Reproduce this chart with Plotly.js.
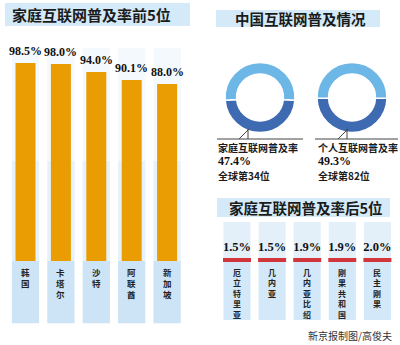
<!DOCTYPE html>
<html><head><meta charset="utf-8">
<script src="https://cdn.plot.ly/plotly-3.0.1.min.js"></script>
<style>html,body{margin:0;padding:0;background:#fff}#chart{width:400px;height:345px}</style>
</head><body><div id="chart"></div>
<script>
// ---- data ----
const topCountries = ['韩国', '卡塔尔', '沙特', '阿联酋', '新加坡'];
const topRates = [98.5, 98.0, 94.0, 90.1, 88.0];
const bottomCountries = ['厄立特里亚', '几内亚', '几内亚比绍', '刚果共和国', '民主刚果'];
const bottomRates = [1.5, 1.5, 1.9, 1.9, 2.0];
const chinaLabels = ['家庭互联网普及率', '个人互联网普及率'];
const chinaRates = [47.4, 49.3];
const chinaRanks = [34, 82];
const titles = ['家庭互联网普及率前5位', '中国互联网普及情况', '家庭互联网普及率后5位'];
const credit = '新京报制图/高俊夫';

// ---- helpers ----
const W = 400, H = 345;
const px = x => x / W;
const py = y => 1 - y / H;
const CJK = '"Noto Sans CJK SC", sans-serif';
const SERIF = '"Liberation Serif", "DejaVu Serif", serif';
const vert = s => s.split('').join('<br>');
const pct = v => v.toFixed(1) + '%';

const orange = '#EA9C03', dark = '#3E6AB2', light = '#6CB7E6', red = '#D2363A';

const traces = [];
traces.push({
  type: 'bar', x: topCountries, y: topRates, xaxis: 'x', yaxis: 'y',
  width: 0.565, marker: {color: orange, line: {width: 0}}, hoverinfo: 'skip', showlegend: false
});
const donutDomX = [[225, 295], [317, 387]];
chinaRates.forEach((r, i) => {
  traces.push({
    type: 'pie', values: [r, 100 - r], sort: false, direction: 'clockwise',
    rotation: 180 - r * 1.8, hole: 0.67, textinfo: 'none', hoverinfo: 'skip',
    marker: {colors: [dark, light], line: {color: '#fff', width: 1.5}},
    domain: {x: [px(donutDomX[i][0]), px(donutDomX[i][1])], y: [py(132.5), py(62.5)]},
    showlegend: false
  });
});
traces.push({
  type: 'scatter', mode: 'markers', x: bottomCountries, y: bottomCountries.map(() => 260),
  xaxis: 'x2', yaxis: 'y2', hoverinfo: 'skip', showlegend: false,
  marker: {symbol: 'line-ew', size: 20, line: {color: red, width: 4}}
});
traces.push({
  type: 'scatter', mode: 'text', x: bottomCountries, y: bottomCountries.map(() => 248),
  text: bottomRates.map(pct), xaxis: 'x2', yaxis: 'y2', hoverinfo: 'skip', showlegend: false,
  textfont: {family: SERIF, size: 12.5, color: '#111', weight: 'bold'}
});

const shapes = [];
const rectP = (x0, y0, x1, y1, fill) => ({type: 'rect', xref: 'paper', yref: 'paper',
  x0: px(x0), x1: px(x1), y0: py(y1), y1: py(y0), fillcolor: fill, line: {width: 0}, layer: 'below'});
const lineP = (x0, y0, x1, y1) => ({type: 'line', xref: 'paper', yref: 'paper',
  x0: px(x0), x1: px(x1), y0: py(y0), y1: py(y1), line: {color: '#444', width: 1}});
// banners
shapes.push(rectP(5, 3, 190, 26, '#D5EAF8'));
shapes.push(rectP(216, 10, 380, 27, '#D5EAF8'));
shapes.push(rectP(217, 198, 390, 217, '#D5EAF8'));
// left columns behind bars
topCountries.forEach((c, i) => {
  [[-31, 0, '#CCE4F6'], [0, 50, '#E6F2FB'], [50, 106, '#F4F9FD']].forEach(s => {
    shapes.push({type: 'rect', xref: 'x', yref: 'y', x0: i - 0.385, x1: i + 0.385, y0: s[0], y1: s[1],
      fillcolor: s[2], line: {width: 0}, layer: 'below'});
  });
});
// right columns
bottomCountries.forEach((c, i) => {
  [[222, 262, '#E3F0FA'], [262, 320, '#D3E8F8']].forEach(s => {
    shapes.push({type: 'rect', xref: 'x2', yref: 'y2', x0: i - 0.385, x1: i + 0.385, y0: s[0], y1: s[1],
      fillcolor: s[2], line: {width: 0}, layer: 'below'});
  });
});
// donut leader lines
shapes.push(lineP(249, 129, 239, 139), lineP(248, 129, 248, 139), lineP(217, 139, 303, 139));
shapes.push(lineP(348, 129, 338, 139), lineP(347, 129, 347, 139), lineP(315, 139, 398, 139));

const annotations = [];
const ann = (o) => Object.assign({showarrow: false, xref: 'paper', yref: 'paper', xanchor: 'center', yanchor: 'middle'}, o);
annotations.push(ann({x: px(91), y: py(15), text: '<b>' + titles[0] + '</b>',
  font: {family: CJK, size: 15, color: '#1b1b1b'}}));
annotations.push(ann({x: px(300), y: py(18), text: '<b>' + titles[1] + '</b>',
  font: {family: CJK, size: 14.5, color: '#1b1b1b'}}));
annotations.push(ann({x: px(306), y: py(207.5), text: '<b>' + titles[2] + '</b>',
  font: {family: CJK, size: 14.5, color: '#1b1b1b'}}));
// top 5 value labels & names
topCountries.forEach((c, i) => {
  annotations.push({showarrow: false, xref: 'x', yref: 'y', x: c, y: topRates[i], xanchor: 'center', yanchor: 'middle', yshift: 12,
    text: '<b>' + pct(topRates[i]) + '</b>', font: {family: SERIF, size: 12, color: '#111'}});
  annotations.push({showarrow: false, xref: 'x', yref: 'y', x: c, y: 0, xanchor: 'center', yanchor: 'top', yshift: -3,
    text: '<b>' + vert(c) + '</b>', font: {family: CJK, size: 8.5, color: '#222'}});
});
// bottom 5 names
bottomCountries.forEach((c, i) => {
  annotations.push({showarrow: false, xref: 'x2', yref: 'y2', x: c, y: 265, xanchor: 'center', yanchor: 'top',
    text: '<b>' + vert(c) + '</b>', font: {family: CJK, size: 8, color: '#222'}});
});
// China texts
const textX = [217, 317];
chinaLabels.forEach((l, i) => {
  annotations.push(ann({x: px(textX[i]), xanchor: 'left', y: py(147), borderpad: 0, text: '<b>' + l + '</b>',
    font: {family: CJK, size: 10, color: '#1b1b1b'}}));
  annotations.push(ann({x: px(textX[i]), xanchor: 'left', y: py(160.5), borderpad: 0, text: '<b>' + pct(chinaRates[i]) + '</b>',
    font: {family: SERIF, size: 12, color: '#111'}}));
  annotations.push(ann({x: px(textX[i]), xanchor: 'left', y: py(175), borderpad: 0, text: '<b>全球第' + chinaRanks[i] + '位</b>',
    font: {family: CJK, size: 10, color: '#1b1b1b'}}));
});
annotations.push(ann({x: px(350), y: py(335), text: credit, font: {family: CJK, size: 10, color: '#333'}}));

const hidden = {showgrid: false, zeroline: false, showline: false, showticklabels: false, ticks: '', fixedrange: true};
const layout = {
  width: W, height: H, margin: {l: 0, r: 0, t: 0, b: 0},
  paper_bgcolor: '#fff', plot_bgcolor: 'rgba(0,0,0,0)', showlegend: false,
  xaxis: Object.assign({domain: [px(7.8), px(184.8)], range: [-0.5, 4.5], type: 'category', anchor: 'y'}, hidden),
  yaxis: Object.assign({domain: [0, 1], range: [-41.8, 129.85], anchor: 'x'}, hidden),
  xaxis2: Object.assign({domain: [px(219.45), px(394.95)], range: [-0.5, 4.5], type: 'category', anchor: 'y2'}, hidden),
  yaxis2: Object.assign({domain: [0, 1], range: [345, 0], anchor: 'x2'}, hidden),
  shapes: shapes, annotations: annotations
};
Plotly.newPlot('chart', traces, layout, {displayModeBar: false, staticPlot: true});
</script>
</body></html>
